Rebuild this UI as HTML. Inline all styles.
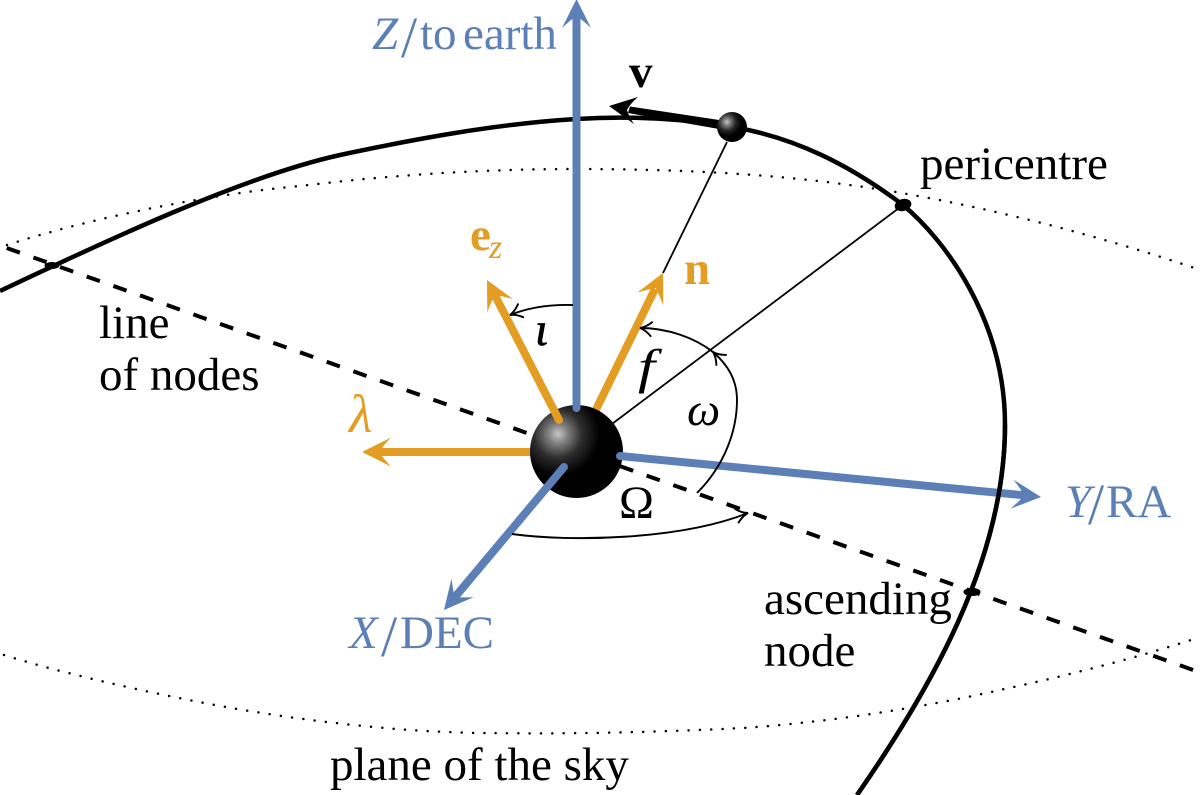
<!DOCTYPE html>
<html><head><meta charset="utf-8">
<style>
html,body{margin:0;padding:0;background:#fff;width:1200px;height:795px;overflow:hidden}
svg{display:block}
text{font-family:"Liberation Serif",serif;font-size:47px}
.b{fill:#5b7fb6}.o{fill:#e29d22}.i{font-style:italic}.s{font-size:58px}
</style></head><body>
<svg width="1200" height="795" viewBox="0 0 1200 795" xmlns="http://www.w3.org/2000/svg">
<defs>
<radialGradient id="g1" gradientUnits="userSpaceOnUse" cx="558" cy="434" r="44" fx="558" fy="434">
<stop offset="0" stop-color="#c8c8c8"/><stop offset=".22" stop-color="#808080"/><stop offset=".55" stop-color="#2c2c2c"/><stop offset=".95" stop-color="#000"/>
</radialGradient>
<radialGradient id="g2" gradientUnits="userSpaceOnUse" cx="727" cy="122" r="15">
<stop offset="0" stop-color="#c8c8c8"/><stop offset=".22" stop-color="#808080"/><stop offset=".6" stop-color="#222"/><stop offset=".95" stop-color="#000"/>
</radialGradient>
<path id="h" d="M0,0 L-29,14.5 Q-21,6 -17,0 Q-21,-6 -29,-14.5 Z"/>
<path id="a" d="M-12,-7.500 Q-6,-1.500 0,0 Q-6,1.500 -12,7.500" fill="none" stroke="#000" stroke-width="1.900"/>
</defs>

<path d="M7,245 C100,215 220,193 300,186 C400,174 490,169 576,169 C680,169 770,174 850,185 C960,200 1090,232 1200,270" fill="none" stroke="#000" stroke-width="2.500" stroke-linecap="round" stroke-dasharray="0 11.35"/>
<path d="M4,655 C58,672 147,693 232,708 C300,720 402,733 491,733 C560,734 640,733 743,728 C830,722 920,708 1000,690 C1070,675 1140,657 1200,637" fill="none" stroke="#000" stroke-width="2.500" stroke-linecap="round" stroke-dasharray="0 11.35"/>

<path d="M6.7,248 L1196,671" fill="none" stroke="#000" stroke-width="4" stroke-dasharray="14 14.3"/>

<path d="M0,291 C112,238 245,176 340,155 C415,139 495,124 576,119 C630,115.700 680,118 733,127 C795,137.500 850,165 903,205 C945,240 1005,320 1005,425 C1005,560 930,690 857,795" fill="none" stroke="#000" stroke-width="4.500"/>

<line x1="727" y1="142" x2="663" y2="273" stroke="#000" stroke-width="1.800"/>
<line x1="600" y1="433" x2="903" y2="205" stroke="#000" stroke-width="1.800"/>

<ellipse cx="903" cy="205" rx="8.500" ry="6" transform="rotate(-15 903 205)" fill="#000"/>
<ellipse cx="52" cy="265.500" rx="7.500" ry="3.500" fill="#000"/>
<ellipse cx="972" cy="592" rx="8.500" ry="4" fill="#000"/>

<line x1="585" y1="432" x2="655" y2="289" stroke="#e29d22" stroke-width="8"/>
<use href="#h" transform="translate(663,273) rotate(-63.9)" class="o"/>
<line x1="560" y1="452" x2="377" y2="452" stroke="#e29d22" stroke-width="8"/>
<use href="#h" transform="translate(362,452) rotate(180)" class="o"/>

<circle cx="576.500" cy="451.500" r="46.500" fill="url(#g1)"/>

<line x1="576.500" y1="408" x2="576.500" y2="15" stroke="#5b7fb6" stroke-width="8" stroke-linecap="round"/>
<use href="#h" transform="translate(576.500,-1) rotate(-90)" class="b"/>
<line x1="559" y1="420" x2="495" y2="295.500" stroke="#e29d22" stroke-width="8" stroke-linecap="round"/>
<use href="#h" transform="translate(487,280) rotate(-117.200)" class="o"/>
<line x1="620" y1="456" x2="1025" y2="495.400" stroke="#5b7fb6" stroke-width="8" stroke-linecap="round"/>
<use href="#h" transform="translate(1041,497) rotate(5.560)" class="b"/>
<line x1="564" y1="467" x2="455" y2="597" stroke="#5b7fb6" stroke-width="8" stroke-linecap="round"/>
<use href="#h" transform="translate(444,610) rotate(130)" class="b"/>

<path d="M1005,425 C1005,560 930,690 857,795" fill="none" stroke="#000" stroke-width="4.500"/>
<ellipse cx="972" cy="592" rx="8.500" ry="4" fill="#000"/>

<!-- velocity -->
<path d="M630,106.500 L719,120 L719,129 L628,113Z" fill="#000"/>
<path d="M609,106 L638,97 Q630,104 627,110 Q629,117 634,124 Z" fill="#000"/>
<circle cx="732" cy="127" r="15" fill="url(#g2)"/>

<!-- angle arcs -->
<path d="M573,305 Q537,304 510,315" fill="none" stroke="#000" stroke-width="1.900"/>
<use href="#a" transform="translate(510,315) rotate(158)"/>
<path d="M697,493 C725,465 737,430 737,400 C737,380 728,365 713,352 C695,338 668,328 640,328" fill="none" stroke="#000" stroke-width="1.900"/>
<use href="#a" transform="translate(713,352) rotate(-136)"/>
<use href="#a" transform="translate(640,328) rotate(186)"/>
<path d="M512,534 C570,542 680,540 748,513" fill="none" stroke="#000" stroke-width="1.900"/>
<use href="#a" transform="translate(748,513) rotate(-14)"/>

<!-- labels -->
<text x="372" y="49" class="b i">Z</text>
<text x="401" y="57" class="b s">/</text>
<text x="420" y="49" class="b">to</text>
<text x="463" y="49" class="b">earth</text>
<text x="1065" y="517" class="b i">Y</text>
<text x="1088" y="524" class="b s">/</text>
<text x="1106" y="517" class="b">RA</text>
<text x="349" y="648" class="b i">X</text>
<text x="381" y="656" class="b s">/</text>
<text x="400" y="648" class="b">DEC</text>
<text x="920" y="179">pericentre</text>
<text x="99" y="338">line</text>
<text x="99" y="390">of nodes</text>
<text x="764" y="614">ascending</text>
<text x="764" y="666">node</text>
<text x="330" y="780">plane of the sky</text>
<text x="629" y="87" font-weight="bold">v</text>
<text x="684" y="284" font-weight="bold" class="o">n</text>
<text x="470" y="250" font-weight="bold" class="o">e</text>
<text x="489" y="258" class="o i" style="font-size:34px">z</text>
<text x="349" y="432" class="o i" style="font-size:54px">λ</text>
<text x="535" y="345" class="i" stroke="#000" stroke-width=".7">ι</text>
<text transform="translate(638,383) scale(1.25,1)" class="i" style="font-size:49px">f</text>
<text x="687" y="425" class="i">ω</text>
<text x="619" y="518">Ω</text>
</svg>
</body></html>
